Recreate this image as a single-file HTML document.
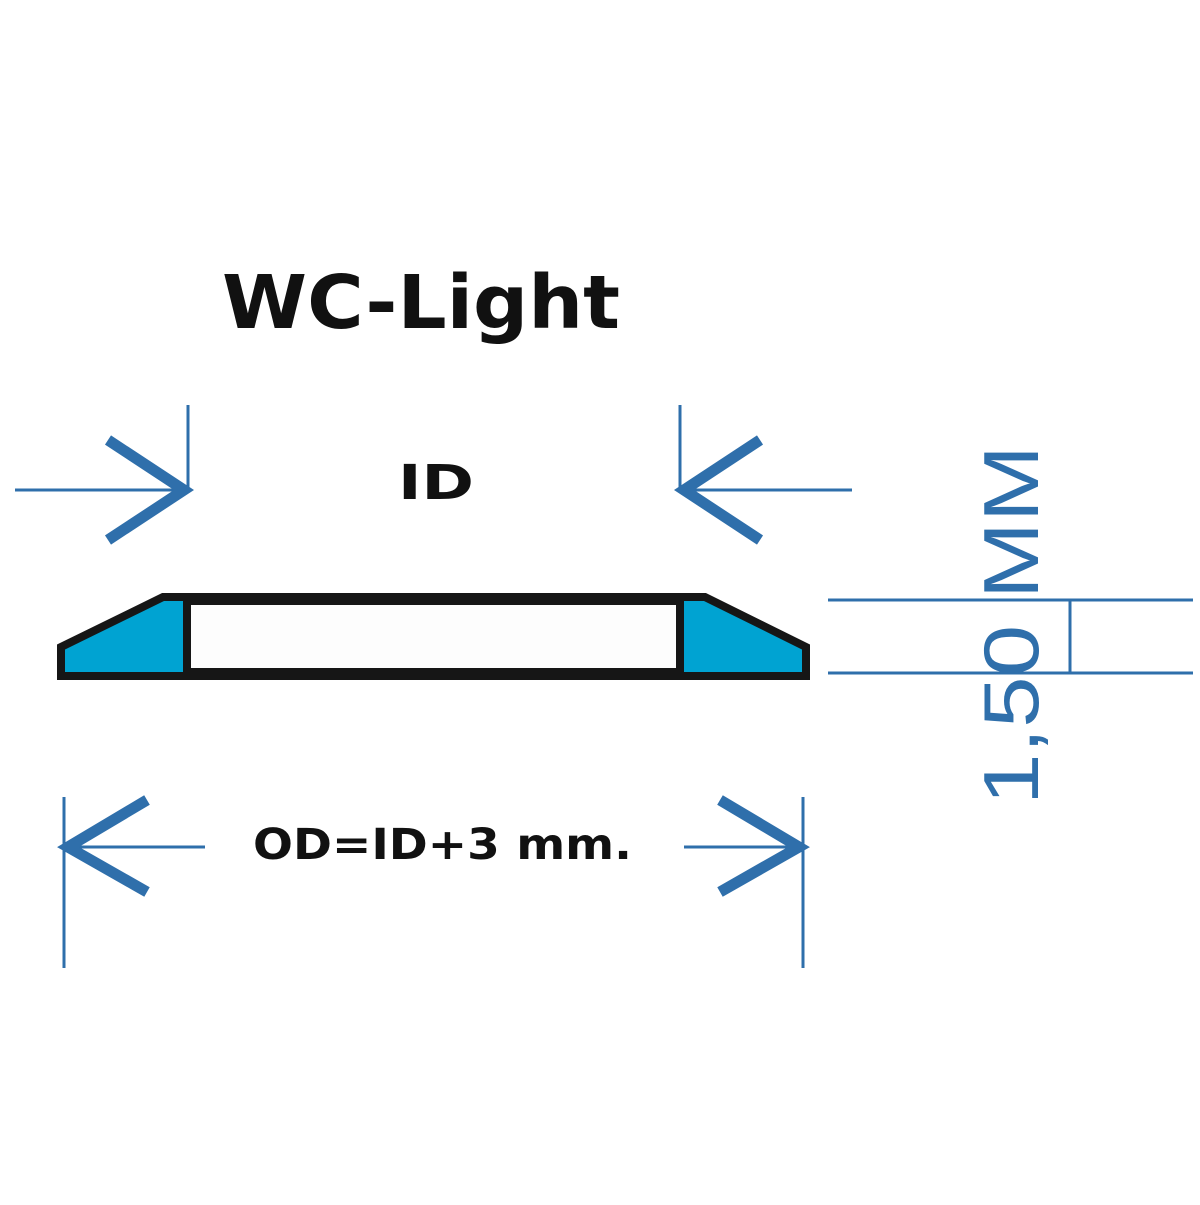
<!DOCTYPE html>
<html><head><style>html,body{margin:0;padding:0;background:#fff}</style></head><body>
<svg width="1200" height="1200" viewBox="0 0 1200 1200" xmlns="http://www.w3.org/2000/svg">
<rect width="1200" height="1200" fill="#fff"/>
<text x="222" y="328" font-family="DejaVu Sans, sans-serif" font-weight="bold" font-size="74" textLength="398" lengthAdjust="spacingAndGlyphs" fill="#111">WC-Light</text>
<text x="398" y="499" font-family="DejaVu Sans, sans-serif" font-weight="bold" font-size="48" textLength="76" lengthAdjust="spacingAndGlyphs" fill="#111">ID</text>
<text x="253" y="859" font-family="DejaVu Sans, sans-serif" font-weight="bold" font-size="43" textLength="379" lengthAdjust="spacingAndGlyphs" fill="#111">OD=ID+3 mm.</text>
<g stroke="#2f6fab" fill="none">
<g stroke-width="3">
<line x1="15" y1="490" x2="188" y2="490"/><line x1="188" y1="405" x2="188" y2="490"/>
<line x1="678" y1="490" x2="852" y2="490"/><line x1="680" y1="405" x2="680" y2="490"/>
<line x1="64" y1="797" x2="64" y2="968"/><line x1="64" y1="847" x2="205" y2="847"/>
<line x1="803" y1="797" x2="803" y2="968"/><line x1="684" y1="847" x2="803" y2="847"/>
<line x1="828" y1="600" x2="1193" y2="600"/><line x1="828" y1="673" x2="1193" y2="673"/>
<line x1="1070" y1="600" x2="1070" y2="673"/>
</g>
<g stroke-width="11">
<polyline points="108,440 184,490 108,540"/>
<polyline points="760,440 684,490 760,540"/>
<polyline points="147,800 68,847 147,892"/>
<polyline points="720,800 799,847 720,892"/>
</g>
</g>
<polygon points="61,647 163,597 705,597 806,647 806,676 61,676" fill="#00a3d2" stroke="#161616" stroke-width="8" stroke-linejoin="miter"/>
<rect x="187" y="601" width="493" height="71" fill="#fdfdfd" stroke="#161616" stroke-width="8"/>
<text transform="translate(1038,805) rotate(-90)" x="0" y="0" font-family="Liberation Sans, sans-serif" font-size="78" textLength="360" lengthAdjust="spacingAndGlyphs" fill="#2f6fab">1,50 MM</text>
</svg>
</body></html>
